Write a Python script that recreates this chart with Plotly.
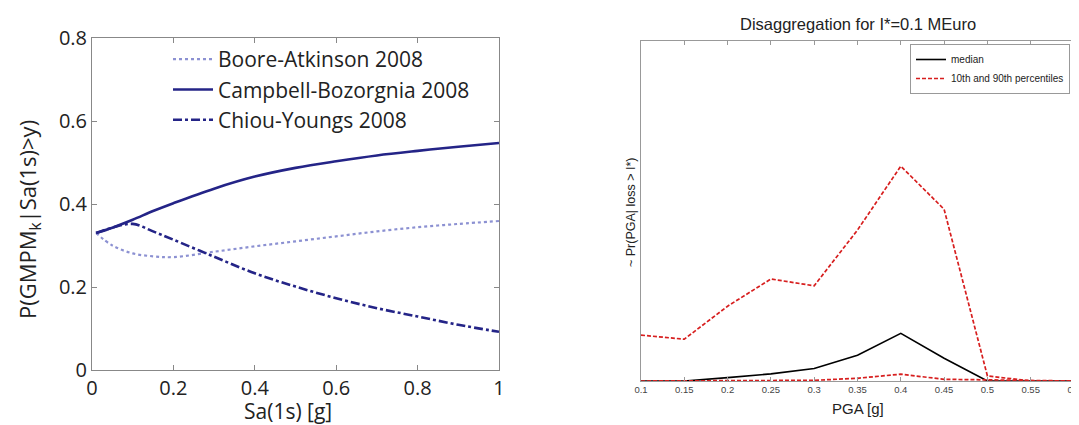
import plotly.graph_objects as go

# ---- left panel data ----
sa = [0.01, 0.05, 0.1, 0.15, 0.2, 0.3, 0.4, 0.5, 0.6, 0.7, 0.8, 0.9, 1.0]
boore = [0.33, 0.300, 0.281, 0.274, 0.272, 0.285, 0.298, 0.310, 0.322, 0.334, 0.344, 0.352, 0.359]
campbell = [0.33, 0.343, 0.362, 0.383, 0.402, 0.437, 0.466, 0.487, 0.503, 0.517, 0.528, 0.538, 0.547]
chiou = [0.33, 0.343, 0.352, 0.334, 0.314, 0.273, 0.233, 0.201, 0.173, 0.149, 0.129, 0.109, 0.092]

# ---- right panel data ----
pga = [0.1, 0.15, 0.2, 0.25, 0.3, 0.35, 0.4, 0.45, 0.5, 0.55, 0.6]
median = [0.0, 0.0, 0.010, 0.021, 0.037, 0.076, 0.140, 0.067, 0.0, 0.0, 0.0]
p90 = [0.135, 0.123, 0.22, 0.30, 0.28, 0.444, 0.632, 0.505, 0.015, 0.0, 0.0]
p10 = [0.0, 0.0, 0.0, 0.0, 0.002, 0.008, 0.020, 0.005, 0.003, 0.0, 0.0]

left_ticks_x = [0, 0.2, 0.4, 0.6, 0.8, 1]
left_ticks_y = [0, 0.2, 0.4, 0.6, 0.8]
right_ticks_x = [0.1, 0.15, 0.2, 0.25, 0.3, 0.35, 0.4, 0.45, 0.5, 0.55, 0.6]

navy = "rgb(36,36,135)"
light = "rgb(140,145,210)"
red = "rgb(215,30,30)"

fig = go.Figure()
fig.add_trace(go.Scatter(x=sa, y=boore, mode="lines", name="Boore-Atkinson 2008",
                         line=dict(color=light, width=2.2, dash="dot", shape="spline"),
                         xaxis="x", yaxis="y", legend="legend"))
fig.add_trace(go.Scatter(x=sa, y=campbell, mode="lines", name="Campbell-Bozorgnia 2008",
                         line=dict(color=navy, width=2.6, shape="spline"),
                         xaxis="x", yaxis="y", legend="legend"))
fig.add_trace(go.Scatter(x=sa, y=chiou, mode="lines", name="Chiou-Youngs 2008",
                         line=dict(color=navy, width=2.6, dash="dashdot", shape="spline"),
                         xaxis="x", yaxis="y", legend="legend"))

fig.add_trace(go.Scatter(x=pga, y=median, mode="lines", name="median",
                         line=dict(color="black", width=1.6),
                         xaxis="x2", yaxis="y2", legend="legend2"))
fig.add_trace(go.Scatter(x=pga, y=p90, mode="lines", name="10th and 90th percentiles",
                         line=dict(color=red, width=1.7, dash="4px,2px"),
                         xaxis="x2", yaxis="y2", legend="legend2"))
fig.add_trace(go.Scatter(x=pga, y=p10, mode="lines", name="10th percentile",
                         line=dict(color=red, width=1.7, dash="4px,2px"), showlegend=False,
                         xaxis="x2", yaxis="y2", legend="legend2"))

# page has an 8px body margin: figure fills the rest of the window
OFF = 8
W, H = 1079 - OFF, 425 - OFF
lfont = "Open Sans, Noto Sans, sans-serif"
rfont = "Liberation Sans, Arial, sans-serif"


def px(x):
    return (x - OFF) / W


def py(y):
    return 1 - (y - OFF) / H


fig.update_layout(
    width=W, height=H,
    margin=dict(l=0, r=0, t=0, b=0, autoexpand=False),
    paper_bgcolor="white", plot_bgcolor="white",
    xaxis=dict(domain=[px(92), px(499)], range=[0, 1], tickvals=left_ticks_x,
               ticktext=["0", "0.2", "0.4", "0.6", "0.8", "1"], automargin=False,
               showline=True, linecolor="#888", mirror="ticks", ticks="inside",
               tickcolor="#888", ticklen=5, showgrid=False, zeroline=False,
               tickfont=dict(family=lfont, size=20, color="#222")),
    yaxis=dict(domain=[py(370), py(38)], range=[0, 0.8], tickvals=left_ticks_y,
               ticktext=["0", "0.2", "0.4", "0.6", "0.8"], automargin=False,
               showline=True, linecolor="#888", mirror="ticks", ticks="inside",
               tickcolor="#888", ticklen=5, showgrid=False, zeroline=False,
               tickfont=dict(family=lfont, size=20, color="#222")),
    xaxis2=dict(domain=[px(641), px(1074)], range=[0.1, 0.6], tickvals=right_ticks_x,
                ticktext=["0.1", "0.15", "0.2", "0.25", "0.3", "0.35", "0.4", "0.45", "0.5", "0.55", "0.6"],
                anchor="y2", automargin=False, showline=True, linecolor="#999", mirror="ticks",
                ticks="inside", tickcolor="#999", ticklen=4, showgrid=False, zeroline=False,
                ticklabeloverflow="allow",
                tickfont=dict(family=rfont, size=9.5, color="#444")),
    yaxis2=dict(domain=[py(381), py(41)], range=[0, 1], anchor="x2", automargin=False,
                showline=True, linecolor="#999", mirror=True, ticks="", showticklabels=False,
                showgrid=False, zeroline=False),
    legend=dict(x=px(168), y=py(39), xanchor="left", yanchor="top",
                bgcolor="rgba(0,0,0,0)", borderwidth=0, tracegroupgap=0,
                font=dict(family=lfont, size=21, color="#222"), itemwidth=40),
    legend2=dict(x=px(1070), y=py(44), xanchor="right", yanchor="top",
                 bgcolor="white", bordercolor="#999", borderwidth=1, tracegroupgap=0,
                 font=dict(family=rfont, size=10, color="#222")),
    annotations=[
        dict(text="Disaggregation for I*=0.1 MEuro", x=px((641 + 1074) / 2), y=py(24),
             xref="paper", yref="paper", showarrow=False, xanchor="center", yanchor="middle",
             font=dict(family=rfont, size=16.5, color="#222")),
        dict(text="PGA [g]", x=px((641 + 1074) / 2), y=py(408),
             xref="paper", yref="paper", showarrow=False, xanchor="center", yanchor="middle",
             font=dict(family=rfont, size=15, color="#222")),
        dict(text="~ Pr(PGA| loss > I*)", x=px(631), y=py(212), textangle=-90,
             xref="paper", yref="paper", showarrow=False, xanchor="center", yanchor="middle",
             font=dict(family=rfont, size=12.5, color="#222")),
        dict(text="Sa(1s) [g]", x=px(288), y=py(411),
             xref="paper", yref="paper", showarrow=False, xanchor="center", yanchor="middle",
             font=dict(family=lfont, size=21, color="#222")),
        dict(text="P(GMPM<sub>k</sub>|Sa(1s)>y)", x=px(29), y=py(220), textangle=-90,
             xref="paper", yref="paper", showarrow=False, xanchor="center", yanchor="middle",
             font=dict(family=lfont, size=22, color="#222")),
    ],
    showlegend=True,
)

fig.write_html("out.html")
